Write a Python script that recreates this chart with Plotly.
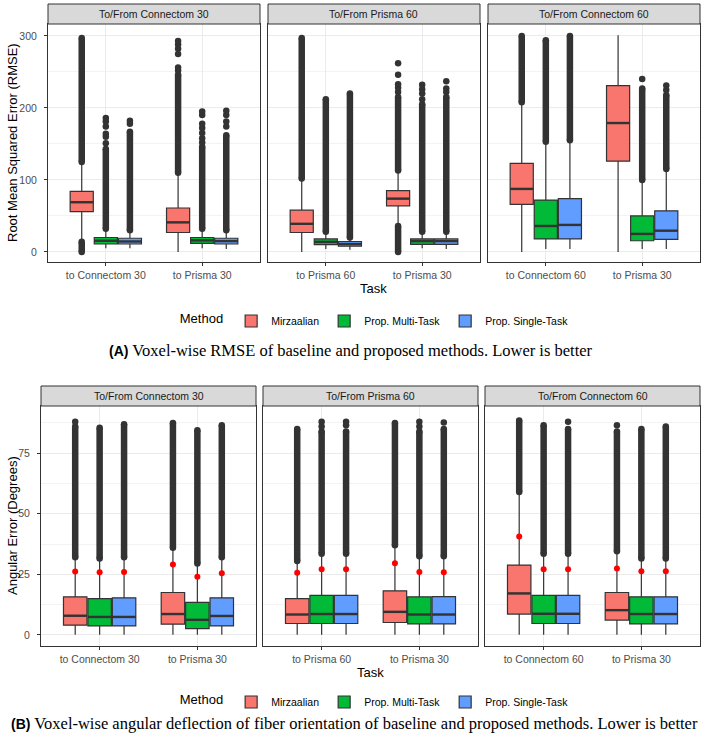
import plotly.graph_objects as go

methods = ["Mirzaalian", "Prop. Multi-Task", "Prop. Single-Task"]
colors = ["#F8766D", "#00BA38", "#619CFF"]
facets = ["To/From Connectom 30", "To/From Prisma 60", "To/From Connectom 60"]
tasks = [["to Connectom 30", "to Prisma 30"],
         ["to Prisma 60", "to Prisma 30"],
         ["to Connectom 60", "to Prisma 30"]]

# (A) RMSE -- indexed [facet][method] -> [task 1, task 2]
rmse_low = [[[16, 0], [5, 5], [5, 4]],
            [[0, 38], [4, 5], [3, 4]],
            [[0, 0], [4, 4], [4, 4]]]
rmse_q1 = [[[56, 27], [11, 12], [11, 11]],
           [[27, 64], [10, 10.5], [8, 10.5]],
           [[66, 126], [18, 15.5], [18, 17.5]]]
rmse_med = [[[69, 41], [15.5, 16], [14.5, 15]],
            [[39, 74], [14, 15], [11, 15]],
            [[87.5, 179], [36, 25], [37.5, 29.5]]]
rmse_q3 = [[[84, 61], [20, 20], [19, 19]],
           [[58, 85], [18, 18], [14.5, 18]],
           [[123, 231], [72, 50], [74, 57]]]
rmse_high = [[[123, 107], [30, 30], [29, 29]],
             [[100, 111], [26, 26], [19, 26]],
             [[206, 301], [151, 98], [153, 113]]]
# dense runs of outliers (from, to)
rmse_runs = [[[[(0, 14), (125, 297)], [(110, 246)]],
              [[(32, 143)], [(32, 146)]],
              [[(30, 167)], [(30, 162)]]],
             [[[(102, 297)], [(0, 36), (113, 215)]],
              [[(28, 212)], [(28, 205)]],
              [[(20, 220)], [(28, 215)]]],
             [[[(208, 300)], []],
              [[(153, 294)], [(100, 227)]],
              [[(155, 300)], [(115, 218)]]]]
# single outliers
rmse_pts = [[[[], [252, 256, 275, 282, 288, 293]],
             [[151, 160, 164, 174, 181, 186], [152, 158, 165, 172, 178, 190, 195]],
             [[178, 182], [174, 181, 190, 196]]],
            [[[], [222, 228, 233, 246, 262]],
             [[], [212, 220, 226, 232]],
             [[], [222, 227, 237]]],
            [[[], []],
             [[], [240]],
             [[], [225, 231]]]]

# (B) angular error
ang_low = [[[0, 0], [0, 0], [0, 0]],
           [[0, 0], [0, 0], [0, 0]],
           [[0, 0], [0, 0], [0, 0]]]
ang_q1 = [[[4.0, 4.4], [3.7, 2.6], [3.7, 3.7]],
          [[4.7, 5.1], [4.7, 4.5], [4.7, 4.5]],
          [[8.6, 6.1], [4.7, 4.5], [4.7, 4.5]]]
ang_med = [[[7.9, 8.6], [7.4, 6.2], [7.4, 7.8]],
           [[8.4, 9.5], [8.6, 8.4], [8.6, 8.4]],
           [[17.1, 10.2], [8.7, 8.6], [8.7, 8.6]]]
ang_q3 = [[[15.7, 17.5], [15.0, 13.4], [15.3, 15.3]],
          [[15.0, 18.2], [16.3, 15.7], [16.3, 15.8]],
          [[28.8, 17.5], [16.3, 15.7], [16.3, 15.7]]]
ang_high = [[[31.0, 35.7], [31.0, 29.2], [31.5, 31.4]],
            [[30.2, 36.4], [33.2, 32.0], [33.2, 32.0]],
            [[58.4, 33.9], [32.9, 31.1], [32.9, 31.1]]]
ang_mean = [[[26.2, 29.1], [25.9, 24.0], [26.0, 25.4]],
            [[25.6, 29.6], [27.1, 26.0], [27.1, 25.9]],
            [[40.6, 27.4], [27.1, 26.3], [27.1, 26.3]]]
ang_runs = [[[[(32, 86)], [(36, 87.5)]],
             [[(31.5, 85.5)], [(29.5, 84.5)]],
             [[(32, 87)], [(32, 86.5)]]],
            [[[(30.5, 85)], [(37, 87.5)]],
             [[(33.5, 84)], [(32.5, 84)]],
             [[(33.5, 84)], [(32.5, 85)]]],
            [[[(59, 88.5)], [(34.5, 84)]],
             [[(33.5, 86.5)], [(31.5, 85)]],
             [[(33.5, 85)], [(31.5, 86)]]]]
ang_pts = [[[[88], []], [[], []], [[], []]],
           [[[], []], [[86, 88], [86, 88]], [[86.5, 88], [87.7]]],
           [[[], [86.5]], [[], []], [[88], []]]]

W, H = 709, 742
DARK = "#333333"
FONT = "Liberation Sans"
TAG = '<span style="font-family:Liberation Sans;font-weight:bold;font-size:14px">{}</span>'


def px(x):
    return x / W


def py(y):
    return 1 - y / H


panels = [
    dict(xdom=[(48, 260), (268, 480), (488, 700)], ydom=(24, 262), strip=(4, 24),
         yrange=[-14, 316.5], dtick=100, minor=50,
         ytitle="Root Mean Squared Error (RMSE)", ytitle_x=13, task_y=288,
         legend="legend", legend_y=321, caption_y=350, caption_x=351,
         caption=TAG.format("(A)") +
                 ' Voxel-wise RMSE of baseline and proposed methods. Lower is better',
         stats=(rmse_low, rmse_q1, rmse_med, rmse_q3, rmse_high),
         runs=rmse_runs, pts=rmse_pts, mean=None),
    dict(xdom=[(41, 256), (263, 478), (485, 700)], ydom=(406, 646), strip=(386, 406),
         yrange=[-4.6, 94.5], dtick=25, minor=12.5,
         ytitle="Angular Error (Degrees)", ytitle_x=12, task_y=672,
         legend="legend2", legend_y=702, caption_y=723, caption_x=354,
         caption=TAG.format("(B)") +
                 ' Voxel-wise angular deflection of fiber orientation of baseline and'
                 ' proposed methods. Lower is better',
         stats=(ang_low, ang_q1, ang_med, ang_q3, ang_high),
         runs=ang_runs, pts=ang_pts, mean=ang_mean),
]

fig = go.Figure()
layout = {}
shapes = []
annotations = []

for r, p in enumerate(panels):
    low, q1, med, q3, high = p["stats"]
    for f in range(3):
        n = r * 3 + f + 1
        xa = "x" if n == 1 else f"x{n}"
        ya = "y" if n == 1 else f"y{n}"
        for m, meth in enumerate(methods):
            fig.add_trace(go.Box(
                x=tasks[f], q1=q1[f][m], median=med[f][m], q3=q3[f][m],
                lowerfence=low[f][m], upperfence=high[f][m],
                name=meth, offsetgroup=meth, legend=p["legend"],
                showlegend=(f == 0), fillcolor=colors[m],
                line=dict(color=DARK, width=1.2), whiskerwidth=0,
                boxpoints=False, xaxis=xa, yaxis=ya, hoverinfo="skip"))
            # thicker median bar
            fig.add_trace(go.Scatter(
                x=tasks[f], y=med[f][m], mode="markers", offsetgroup=meth,
                marker=dict(symbol="line-ew", size=16.5, color=DARK,
                            line=dict(color=DARK, width=2.4)),
                showlegend=False, xaxis=xa, yaxis=ya, hoverinfo="skip"))
            for t, task in enumerate(tasks[f]):
                for lo, hi in p["runs"][f][m][t]:
                    fig.add_trace(go.Scatter(
                        x=[task, task], y=[lo, hi], mode="lines+markers",
                        offsetgroup=meth, line=dict(color=DARK, width=6.5),
                        marker=dict(size=6.5, color=DARK), showlegend=False,
                        xaxis=xa, yaxis=ya, hoverinfo="skip"))
                pts = p["pts"][f][m][t]
                if pts:
                    fig.add_trace(go.Scatter(
                        x=[task] * len(pts), y=pts, mode="markers", offsetgroup=meth,
                        marker=dict(size=6.5, color=DARK), showlegend=False,
                        xaxis=xa, yaxis=ya, hoverinfo="skip"))
            if p["mean"] is not None:
                fig.add_trace(go.Scatter(
                    x=tasks[f], y=p["mean"][f][m], mode="markers", offsetgroup=meth,
                    marker=dict(size=6, color="red"), showlegend=False,
                    xaxis=xa, yaxis=ya, hoverinfo="skip"))

        x0, x1 = p["xdom"][f]
        layout["xaxis" if n == 1 else f"xaxis{n}"] = dict(
            domain=[px(x0), px(x1)], anchor=ya, type="category",
            categoryorder="array", categoryarray=tasks[f], range=[-0.6, 1.6],
            showgrid=True, gridcolor="#EBEBEB", gridwidth=1,
            showline=True, mirror=True, linecolor=DARK, linewidth=1,
            ticks="outside", ticklen=3, tickcolor=DARK, tickwidth=1,
            tickfont=dict(family=FONT, size=10.5, color="#4D4D4D"),
            zeroline=False, fixedrange=True)
        layout["yaxis" if n == 1 else f"yaxis{n}"] = dict(
            domain=[py(p["ydom"][1]), py(p["ydom"][0])], anchor=xa,
            range=p["yrange"], tick0=0, dtick=p["dtick"],
            showgrid=True, gridcolor="#EBEBEB", gridwidth=1,
            minor=dict(dtick=p["minor"], showgrid=True, gridcolor="#F3F3F3", gridwidth=0.6),
            showline=True, mirror=True, linecolor=DARK, linewidth=1,
            ticks="outside" if f == 0 else "", ticklen=3, tickcolor=DARK, tickwidth=1,
            showticklabels=(f == 0), ticklabelstandoff=5,
            tickfont=dict(family=FONT, size=10.5, color="#4D4D4D"),
            zeroline=False, fixedrange=True)

        # facet strip
        s0, s1 = p["strip"]
        shapes.append(dict(type="rect", xref="paper", yref="paper",
                           x0=px(x0), x1=px(x1), y0=py(s1), y1=py(s0),
                           fillcolor="#D9D9D9", line=dict(color=DARK, width=1)))
        annotations.append(dict(text=facets[f], xref="paper", yref="paper",
                                x=px((x0 + x1) / 2), y=py((s0 + s1) / 2),
                                showarrow=False, xanchor="center", yanchor="middle",
                                font=dict(family=FONT, size=10.5, color="#1A1A1A")))

    mid = p["xdom"][1]
    annotations.append(dict(text="Task", xref="paper", yref="paper",
                            x=px((mid[0] + mid[1]) / 2), y=py(p["task_y"]),
                            showarrow=False, xanchor="center", yanchor="middle",
                            font=dict(family=FONT, size=13, color="black")))
    annotations.append(dict(text=p["ytitle"], xref="paper", yref="paper", textangle=-90,
                            x=px(p["ytitle_x"]), y=py(sum(p["ydom"]) / 2),
                            showarrow=False, xanchor="center", yanchor="middle",
                            font=dict(family=FONT, size=13, color="black")))
    annotations.append(dict(text=p["caption"], xref="paper", yref="paper",
                            x=px(p["caption_x"]), y=py(p["caption_y"]),
                            showarrow=False, xanchor="center", yanchor="middle",
                            font=dict(family="Liberation Serif", size=16.5, color="black")))
    layout[p["legend"]] = dict(
        title=dict(text="Method", side="left", font=dict(family=FONT, size=13, color="black")),
        orientation="h", x=0.53, xanchor="center", y=py(p["legend_y"]), yanchor="middle",
        font=dict(family=FONT, size=10.5, color="black"), bgcolor="rgba(0,0,0,0)",
        traceorder="normal")

fig.update_layout(
    width=W, height=H, margin=dict(l=0, r=0, t=0, b=0),
    paper_bgcolor="white", plot_bgcolor="white",
    boxmode="group", boxgap=0.25, boxgroupgap=0.04,
    scattermode="group", scattergap=0.25,
    shapes=shapes, annotations=annotations, **layout)

# the page body has a default 8px margin; drop it so the figure sits at 0,0
fig.write_html("out.html", config={"displayModeBar": False},
               post_script="document.body.style.margin='0';")
